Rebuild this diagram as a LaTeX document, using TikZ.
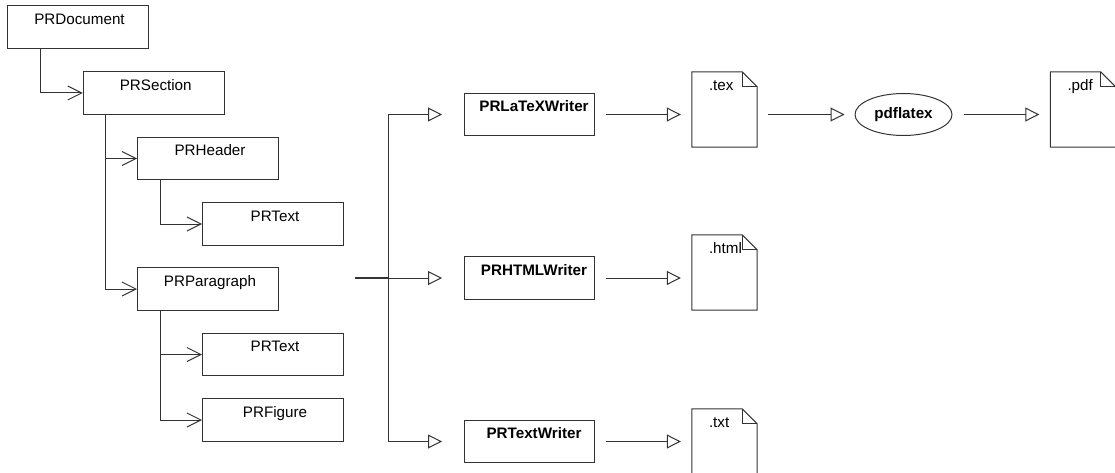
\documentclass[tikz,border=0pt]{standalone}
\usepackage{fontspec}
\setmainfont{Liberation Sans}
\usetikzlibrary{arrows.meta, shapes.geometric, calc}
\definecolor{lineGris}{gray}{0.2}

% macro for the folded corner of a page node
\newcommand{\pagefold}[1]{
    \draw[page] (#1.north west) -- ([xshift=-15pt]#1.north east) -- ([yshift=-15pt]#1.north east) -- (#1.south east) -- (#1.south west) -- cycle;
    \draw[page] ([xshift=-15pt]#1.north east) |- ([yshift=-15pt]#1.north east);
}

\begin{document}
\begin{tikzpicture}[x=1pt, y=-1pt,
        page/.style={draw=lineGris, line width=1pt},
        comp/.style={rectangle, draw=lineGris, line width=1pt, minimum width=141pt, minimum height=42.5pt, inner ysep=0pt, text height=18.5pt, text depth=24pt, font=\fontsize{15.2}{18}\selectfont, execute at begin node=\hspace*{4pt}},
        writer/.style={comp, minimum width=130pt, font=\fontsize{15.2}{18}\selectfont\bfseries, execute at begin node=\hspace*{6pt}},
        docpage/.style={rectangle, minimum width=65pt, minimum height=75pt, inner xsep=17pt, inner ysep=0pt, text width=31pt, align=left, text height=18.5pt, text depth=56.5pt, font=\fontsize{15.2}{18}\selectfont},
        tool/.style={ellipse, draw=lineGris, line width=1pt, minimum width=97pt, minimum height=42pt, inner sep=0pt, font=\fontsize{15.2}{18}\selectfont\bfseries},
        has/.style={draw=lineGris, line width=1pt, -{Straight Barb[length=14pt, width=14pt]}},
        flow/.style={draw=lineGris, line width=1pt, -{Triangle[open, fill=white, length=14pt, width=14pt]}}]

    \useasboundingbox (0,0) rectangle (1115,473);

    % document tree
    \node[comp] (prdocument) at (77.5,27) {PRDocument};
    \node[comp] (prsection) at (153.75,93) {PRSection};
    \node[comp] (prheader) at (208,158.5) {PRHeader};
    \node[comp] (prtexta) at (273,224) {PRText};
    \node[comp] (prparagraph) at (208,289) {PRParagraph};
    \node[comp] (prtextb) at (273,354.5) {PRText};
    \node[comp] (prfigure) at (273,420) {PRFigure};

    \draw[has] ([xshift=-37pt]prdocument.south) |- (prsection);
    \draw[has] ([xshift=-48.25pt]prsection.south) |- (prheader);
    \draw[has] ([xshift=-48.25pt]prsection.south) |- (prparagraph);
    \draw[has] ([xshift=-48pt]prheader.south) |- (prtexta);
    \draw[has] ([xshift=-48pt]prparagraph.south) |- (prtextb);
    \draw[has] ([xshift=-48pt]prparagraph.south) |- (prfigure);

    % writers
    \node[writer] (latexwriter) at (529,114.5) {PRLaTeXWriter};
    \node[writer] (htmlwriter) at (529,278) {PRHTMLWriter};
    \node[writer] (textwriter) at (529,441.5) {PRTextWriter};

    \coordinate (busstart) at (355,278);
    \coordinate (busjoin) at (388,278);

    \draw[draw=lineGris, line width=1.2pt] (busstart) -- (busjoin);
    \draw[flow, shorten >=21.5pt] (busjoin) |- (latexwriter);
    \draw[flow, shorten >=21.5pt] (busjoin) -- (htmlwriter);
    \draw[flow, shorten >=21.5pt] (busjoin) |- (textwriter);

    % output files
    \node[docpage] (texfile) at (724.5,109.5) {.tex};
    \node[docpage] (htmlfile) at (724.5,272.5) {.html};
    \node[docpage] (txtfile) at (724.5,446.5) {.txt};
    \node[docpage] (pdffile) at (1083,109.5) {.pdf};
    \node[tool] (pdflatex) at (903.5,114.5) {pdflatex};

    \pagefold{texfile}
    \pagefold{htmlfile}
    \pagefold{txtfile}
    \pagefold{pdffile}

    \draw[flow, shorten <=11pt, shorten >=11pt] (latexwriter.east) -- (latexwriter.east -| texfile.west);
    \draw[flow, shorten <=11pt, shorten >=11pt] (htmlwriter.east) -- (htmlwriter.east -| htmlfile.west);
    \draw[flow, shorten <=11pt, shorten >=11pt] (textwriter.east) -- (textwriter.east -| txtfile.west);
    \draw[flow, shorten <=11pt, shorten >=10pt] (pdflatex.west -| texfile.east) -- (pdflatex.west);
    \draw[flow, shorten <=11pt, shorten >=11pt] (pdflatex.east) -- (pdflatex.east -| pdffile.west);
\end{tikzpicture}
\end{document}
